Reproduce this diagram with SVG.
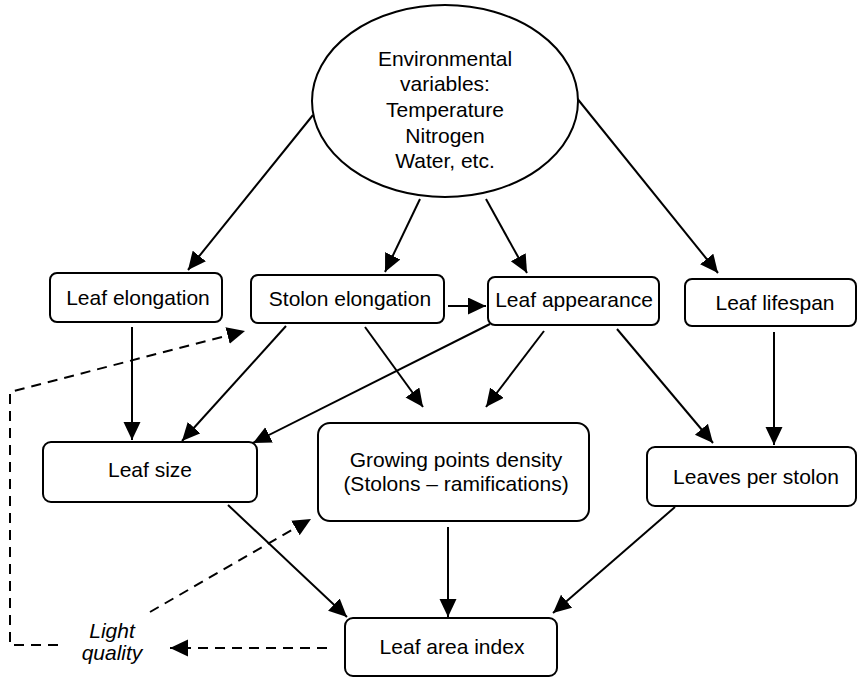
<svg xmlns="http://www.w3.org/2000/svg" width="858" height="678" viewBox="0 0 858 678">
<defs>
<marker id="ah" markerUnits="userSpaceOnUse" markerWidth="20" markerHeight="18" refX="18" refY="8.5" orient="auto">
<path d="M0,0 L18,8.5 L0,17 z" fill="#000"/>
</marker>
<style>
.box{fill:#fff;stroke:#000;stroke-width:2}
.t{font-family:"Liberation Sans",Arial,sans-serif;font-size:21px;fill:#000;text-anchor:middle}
.it{font-style:italic}
.c{fill:none;stroke:#000;stroke-width:2}
.d{stroke-dasharray:10 7}
</style>
</defs>
<rect width="858" height="678" fill="#fff"/>
<g id="connectors">
<line class="c" x1="313" y1="115" x2="188" y2="270" marker-end="url(#ah)"/>
<line class="c" x1="420" y1="199" x2="385" y2="272" marker-end="url(#ah)"/>
<line class="c" x1="486" y1="199" x2="527" y2="273" marker-end="url(#ah)"/>
<line class="c" x1="576" y1="97" x2="718" y2="273" marker-end="url(#ah)"/>
<line class="c" x1="448" y1="306" x2="486" y2="306" marker-end="url(#ah)"/>
<line class="c" x1="132" y1="327" x2="132" y2="440" marker-end="url(#ah)"/>
<line class="c" x1="286" y1="326" x2="182" y2="441" marker-end="url(#ah)"/>
<line class="c" x1="490" y1="324" x2="253" y2="443" marker-end="url(#ah)"/>
<line class="c" x1="365" y1="327" x2="423" y2="407" marker-end="url(#ah)"/>
<line class="c" x1="544" y1="331" x2="486" y2="407" marker-end="url(#ah)"/>
<line class="c" x1="617" y1="329" x2="713" y2="443" marker-end="url(#ah)"/>
<line class="c" x1="774" y1="332" x2="774" y2="445" marker-end="url(#ah)"/>
<line class="c" x1="228" y1="505" x2="347" y2="617" marker-end="url(#ah)"/>
<line class="c" x1="448" y1="527" x2="448" y2="617" marker-end="url(#ah)"/>
<line class="c" x1="675" y1="507" x2="553" y2="613" marker-end="url(#ah)"/>
<line class="c d" x1="327" y1="648" x2="170" y2="648" marker-end="url(#ah)"/>
<line class="c d" x1="150" y1="612" x2="311" y2="519" marker-end="url(#ah)"/>
<polyline class="c d" points="58,645 10,645 10,392 245,331" marker-end="url(#ah)"/>
</g>
<g id="env">
<ellipse class="box" cx="445" cy="101" rx="133" ry="96"/>
<text class="t" x="445" y="65.5">Environmental</text>
<text class="t" x="445" y="91">variables:</text>
<text class="t" x="445" y="117">Temperature</text>
<text class="t" x="445" y="142.5">Nitrogen</text>
<text class="t" x="445" y="168">Water, etc.</text>
</g>
<g id="leaf-elongation">
<rect class="box" x="50" y="273" width="172" height="49" rx="7"/>
<text class="t" x="138" y="305">Leaf elongation</text>
</g>
<g id="stolon-elongation">
<rect class="box" x="251" y="275" width="193" height="48" rx="7"/>
<text class="t" x="350" y="306">Stolon elongation</text>
</g>
<g id="leaf-appearance">
<rect class="box" x="488" y="277" width="171" height="48" rx="7"/>
<text class="t" x="574" y="307">Leaf appearance</text>
</g>
<g id="leaf-lifespan">
<rect class="box" x="685" y="279" width="171" height="47" rx="7"/>
<text class="t" x="775" y="310">Leaf lifespan</text>
</g>
<g id="leaf-size">
<rect class="box" x="43" y="442" width="214" height="60" rx="8"/>
<text class="t" x="150" y="477">Leaf size</text>
</g>
<g id="growing-points">
<rect class="box" x="318" y="423" width="271" height="98" rx="12"/>
<text class="t" x="456" y="467">Growing points density</text>
<text class="t" x="456" y="491">(Stolons – ramifications)</text>
</g>
<g id="leaves-per-stolon">
<rect class="box" x="647" y="447" width="209" height="59" rx="8"/>
<text class="t" x="756" y="484">Leaves per stolon</text>
</g>
<g id="leaf-area-index">
<rect class="box" x="345" y="618" width="212" height="58" rx="8"/>
<text class="t" x="452" y="654">Leaf area index</text>
</g>
<g id="light-quality">
<text class="t it" x="112" y="638">Light</text>
<text class="t it" x="112" y="660">quality</text>
</g>
</svg>
